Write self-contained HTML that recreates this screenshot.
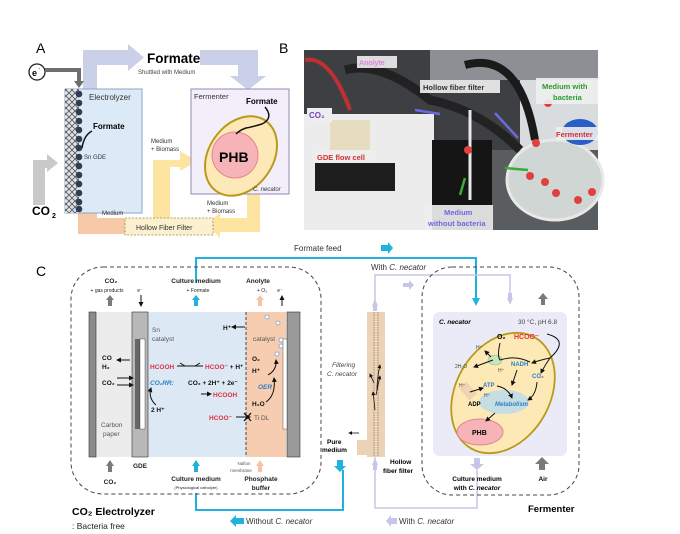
<!DOCTYPE html>
<html><head><meta charset="utf-8"><style>
html,body{margin:0;padding:0;background:#fff;}
svg{display:block;font-family:"Liberation Sans",sans-serif;}
</style></head><body>
<svg width="680" height="534" viewBox="0 0 680 534" xmlns="http://www.w3.org/2000/svg">
<defs>
<marker id="ah" viewBox="0 0 10 10" refX="8" refY="5" markerWidth="5" markerHeight="5" orient="auto"><path d="M0,0 L10,5 L0,10z" fill="#111"/></marker>
<pattern id="hatch" width="6" height="6" patternUnits="userSpaceOnUse"><rect width="6" height="6" fill="#dfe4ea"/><path d="M0,0L6,6M6,0L0,6" stroke="#555" stroke-width="0.8"/></pattern>
</defs>

<!-- ===== Panel A ===== -->
<text x="36" y="53" font-size="14">A</text>
<path d="M83,89 V50 H128 V44 L144,57.5 L128,71 V65 H97 V89z" fill="#c9d0e8"/>
<path d="M200,50 H258 V76 H266 L248,90 L230,76 H238 V65 H200z" fill="#c9d0e8"/>
<text x="147" y="63" font-size="13.5" font-weight="bold">Formate</text>
<text x="138" y="74" font-size="6" fill="#444">Shuttled with Medium</text>
<circle cx="37" cy="72" r="8" fill="#fff" stroke="#222" stroke-width="1.3"/>
<text x="32" y="76" font-size="9" font-weight="bold">e</text><text x="38.5" y="70" font-size="5">-</text>
<path d="M45,70 H79 V82" fill="none" stroke="#6e6e6e" stroke-width="4"/>
<path d="M74,81 L84,81 L79,88z" fill="#6e6e6e"/>
<path d="M33,205 V160 H47 V154 L58,163 L47,172 V168 H45 V205z" fill="#c9c9c9"/>
<text x="32" y="215" font-size="12" font-weight="bold">CO</text><text x="52" y="218" font-size="7" font-weight="bold">2</text>
<!-- orange arrow -->
<path d="M125,218 H97 V200 H104 L88,187 L72,200 H78 V234 H125z" fill="#f7c9a6"/>
<!-- Electrolyzer -->
<rect x="65" y="89" width="77" height="124" fill="#dceaf7" stroke="#8aa7c8" stroke-width="1"/>
<rect x="65" y="89" width="14" height="124" fill="url(#hatch)"/>
<g fill="#2f3e52">
<circle cx="79" cy="94" r="3.3"/><circle cx="79" cy="103" r="3.3"/><circle cx="79" cy="112" r="3.3"/><circle cx="79" cy="121" r="3.3"/><circle cx="79" cy="130" r="3.3"/><circle cx="79" cy="139" r="3.3"/><circle cx="79" cy="148" r="3.3"/><circle cx="79" cy="157" r="3.3"/><circle cx="79" cy="166" r="3.3"/><circle cx="79" cy="175" r="3.3"/><circle cx="79" cy="184" r="3.3"/><circle cx="79" cy="193" r="3.3"/><circle cx="79" cy="202" r="3.3"/><circle cx="79" cy="209" r="3.3"/>
</g>
<text x="89" y="100" font-size="8" fill="#333">Electrolyzer</text>
<text x="93" y="129" font-size="8" font-weight="bold">Formate</text>
<path d="M92,131 Q84,135 82,148" fill="none" stroke="#111" stroke-width="1.5"/>
<text x="84" y="159" font-size="6" fill="#333">Sn GDE</text>
<text x="102" y="215" font-size="6" fill="#333">Medium</text>
<!-- yellow arrows -->
<path d="M153,233 V160 H180 V151 L197,161 L180,171 V167 H170 V233z" fill="#fde4a0"/>
<path d="M247,194 H260 V232 H220 V238 L207,225 L220,212 V218 H247z" fill="#fde4a0"/>
<text x="151" y="143" font-size="6" fill="#333">Medium</text>
<text x="151" y="151" font-size="6" fill="#333">+ Biomass</text>
<text x="207" y="205" font-size="6" fill="#333">Medium</text>
<text x="207" y="213" font-size="6" fill="#333">+ Biomass</text>
<rect x="125" y="218" width="88" height="17" fill="#fbf0cf" stroke="#9a8a50" stroke-width="0.8" stroke-dasharray="2,1.5"/>
<text x="136" y="230" font-size="7" fill="#333">Hollow Fiber Filter</text>
<!-- Fermenter -->
<rect x="191" y="89" width="98" height="105" fill="#f3effa" stroke="#9a86b8" stroke-width="1"/>
<text x="194" y="99" font-size="7.5" fill="#333">Fermenter</text>
<ellipse cx="241" cy="156" rx="32" ry="43" transform="rotate(35 241 156)" fill="#fde9b8" stroke="#b99a1a" stroke-width="2"/>
<circle cx="235" cy="155" r="23" fill="#f6b3b8" stroke="#e0878e" stroke-width="1"/>
<text x="219" y="162" font-size="14" font-weight="bold">PHB</text>
<text x="246" y="104" font-size="8" font-weight="bold">Formate</text>
<path d="M265,107 Q274,118 262,124 Q252,127 246,128 Q240,130 236,134" fill="none" stroke="#111" stroke-width="1.5"/>
<text x="253" y="191" font-size="6" font-style="italic" fill="#333">C. necator</text>

<!-- ===== Panel B photo ===== -->
<text x="279" y="53" font-size="14">B</text>
<rect x="304" y="50" width="294" height="180" fill="#3d3f42"/>
<rect x="430" y="50" width="168" height="30" fill="#8c8f93"/>
<rect x="520" y="80" width="78" height="70" fill="#d9dcde"/>
<rect x="304" y="114" width="130" height="116" fill="#ececec"/>
<rect x="315" y="163" width="80" height="28" fill="#1e1e1e"/>
<rect x="330" y="120" width="40" height="35" fill="#e6dcc0"/>
<rect x="432" y="140" width="60" height="90" fill="#151515"/>
<rect x="492" y="150" width="106" height="80" fill="#5a5d60"/>
<ellipse cx="555" cy="180" rx="48" ry="40" fill="#cfd6d4" stroke="#e8e8e8" stroke-width="3"/>
<path d="M465,65 Q520,50 535,140" fill="none" stroke="#1a1a1a" stroke-width="8"/>
<path d="M345,70 Q380,60 430,100 Q480,110 520,150" fill="none" stroke="#222" stroke-width="9"/>
<path d="M305,60 Q330,55 350,110" fill="none" stroke="#c03030" stroke-width="4"/>
<path d="M470,110 V200" stroke="#e8e8e8" stroke-width="3"/>
<g fill="#e04040"><circle cx="468" cy="150" r="4"/><circle cx="536" cy="143" r="4"/><circle cx="530" cy="176" r="4"/><circle cx="545" cy="182" r="4"/><circle cx="556" cy="193" r="4"/><circle cx="578" cy="200" r="4"/><circle cx="592" cy="192" r="4"/><circle cx="548" cy="103" r="4"/></g>
<ellipse cx="580" cy="132" rx="18" ry="13" fill="#2a5fc8"/>
<rect x="357" y="56" width="40" height="12" fill="#eee" opacity="0.9"/><text x="359" y="65" font-size="7" fill="#e080e0" font-weight="bold">Anolyte</text>
<rect x="420" y="80" width="80" height="13" fill="#eee" opacity="0.92"/><text x="423" y="90" font-size="7.5" font-weight="bold" fill="#333">Hollow fiber filter</text>
<rect x="536" y="78" width="62" height="26" fill="#eee" opacity="0.92"/><text x="542" y="89" font-size="7.5" font-weight="bold" fill="#2a9a2a">Medium with</text><text x="553" y="100" font-size="7.5" font-weight="bold" fill="#2a9a2a">bacteria</text>
<rect x="556" y="127" width="42" height="13" fill="#eee" opacity="0.9"/><text x="556" y="137" font-size="7.5" font-weight="bold" fill="#d03030">Fermenter</text>
<rect x="307" y="108" width="25" height="14" fill="#eee"/><text x="309" y="118" font-size="8" font-weight="bold" fill="#7a40c0">CO₂</text>
<rect x="314" y="150" width="62" height="13" fill="#eee"/><text x="317" y="160" font-size="7.5" font-weight="bold" fill="#d03030">GDE flow cell</text>
<rect x="425" y="205" width="68" height="25" fill="#eee" opacity="0.92"/><text x="444" y="215" font-size="7.5" font-weight="bold" fill="#6a6ae0">Medium</text><text x="428" y="226" font-size="7.5" font-weight="bold" fill="#6a6ae0">without bacteria</text>
<path d="M415,110 L440,114" stroke="#6a6ae0" stroke-width="2.5"/>
<path d="M495,113 L518,138" stroke="#6a6ae0" stroke-width="2.5"/>
<path d="M528,170 L505,168" stroke="#3aaa3a" stroke-width="2.5"/>
<path d="M460,195 L465,178" stroke="#3aaa3a" stroke-width="2.5"/>

<!-- ===== Panel C ===== -->
<text x="36" y="276" font-size="14">C</text>
<text x="294" y="251" font-size="8" fill="#333">Formate feed</text>
<path d="M381,245 H388 V242 L393,248 L388,254 V251 H381z" fill="#1fb3dc"/>
<path d="M196,283 V258 H476 V300" fill="none" stroke="#1fb3dc" stroke-width="2"/>
<path d="M472,298 H480 L476,306z" fill="#1fb3dc"/>
<path d="M196,493 V510 H343 V470" fill="none" stroke="#1fb3dc" stroke-width="2"/>
<path d="M337,460 H343 V466 H346 L340,472 L334,466 H337z" fill="#1fb3dc"/>
<path d="M244,518 H236 V515 L230,521 L236,527 V524 H244z" fill="#1fb3dc"/>
<text x="246" y="524" font-size="8" fill="#333">Without <tspan font-style="italic">C. necator</tspan></text>
<path d="M375,310 V275 H510 V300" fill="none" stroke="#c6c6e8" stroke-width="1.5"/>
<path d="M375,457 V508 H477 V470" fill="none" stroke="#c6c6e8" stroke-width="1.5"/>
<text x="371" y="270" font-size="8" fill="#333">With <tspan font-style="italic">C. necator</tspan></text>
<path d="M403,283 H409 V280 L414,285 L409,290 V287 H403z" fill="#c6c6e8"/>
<path d="M397,518 H391 V515 L386,521 L391,527 V524 H397z" fill="#c6c6e8"/>
<text x="399" y="524" font-size="8" fill="#333">With <tspan font-style="italic">C. necator</tspan></text>
<path d="M372,306 L375,299 L378,306z M373,306 H377 V311 H373z" fill="#c6c6e8"/>
<path d="M372,465 L375,458 L378,465z M373,465 H377 V470 H373z" fill="#c6c6e8"/>

<rect x="71" y="267" width="250" height="227" rx="32" fill="none" stroke="#444" stroke-width="1" stroke-dasharray="4,3"/>
<rect x="96" y="312" width="36" height="145" fill="#ececec"/>
<rect x="148" y="312" width="98" height="145" fill="#dce9f5"/>
<rect x="246" y="312" width="40" height="145" fill="#f6cdb0"/>
<rect x="89" y="312" width="7" height="145" fill="#8a8a8a" stroke="#333" stroke-width="0.6"/>
<rect x="132" y="312" width="16" height="145" fill="#b8b8b8" stroke="#333" stroke-width="0.6"/>
<rect x="135" y="339" width="8" height="90" fill="#666"/>
<rect x="140" y="339" width="5" height="90" fill="#fff" stroke="#333" stroke-width="0.4"/>
<rect x="287" y="312" width="13" height="145" fill="#9a9a9a" stroke="#333" stroke-width="0.6"/>
<rect x="283" y="339" width="4" height="90" fill="#fff" stroke="#333" stroke-width="0.4"/>
<line x1="246" y1="312" x2="246" y2="457" stroke="#444" stroke-width="1" stroke-dasharray="3,2"/>
<g font-size="6.5" font-weight="bold" text-anchor="middle" fill="#222">
<text x="111" y="283">CO₂</text>
<text x="196" y="283">Culture medium</text>
<text x="258" y="283">Anolyte</text>
<text x="198" y="292" font-size="5" font-weight="normal">+ Formate</text>
<text x="262" y="292" font-size="5" font-weight="normal">+ O₂</text>
<text x="107" y="292" font-size="5" font-weight="normal">+ gas products</text>
<text x="140" y="292" font-size="5" font-weight="normal">e⁻</text>
<text x="280" y="292" font-size="5" font-weight="normal">e⁻</text>
</g>
<path d="M108,306 V300 H106 L110,295 L114,300 H112 V306z" fill="#7a7a7a"/>
<path d="M194,306 V300 H192 L196,295 L200,300 H198 V306z" fill="#1fb3dc"/>
<path d="M258,306 V300 H256 L260,295 L264,300 H262 V306z" fill="#f4c4a4"/>
<line x1="141" y1="295" x2="141" y2="306" stroke="#111" marker-end="url(#ah)"/>
<line x1="282" y1="306" x2="282" y2="296" stroke="#111" marker-end="url(#ah)"/>
<g font-size="6.5" fill="#555"><text x="152" y="332">Sn</text><text x="152" y="341">catalyst</text><text x="253" y="341">catalyst</text><text x="101" y="427">Carbon</text><text x="103" y="436">paper</text><text x="254" y="420">Ti DL</text></g>
<g font-size="6.5" font-weight="bold" fill="#111"><text x="102" y="360">CO</text><text x="102" y="369">H₂</text><text x="102" y="385">CO₂</text><text x="151" y="412">2 H⁺</text><text x="223" y="330">H⁺</text><text x="252" y="361">O₂</text><text x="252" y="373">H⁺</text><text x="252" y="406">H₂O</text>
<text x="188" y="385">CO₂ + 2H⁺ + 2e⁻</text></g>
<g font-size="6.5" font-weight="bold" fill="#e03040"><text x="150" y="369">HCOOH</text><text x="205" y="369">HCOO⁻ <tspan fill="#111">+ H⁺</tspan></text><text x="213" y="397">HCOOH</text><text x="209" y="420">HCOO⁻</text></g>
<text x="150" y="385" font-size="6.5" font-weight="bold" font-style="italic" fill="#2f7fc0">CO₂RR:</text>
<text x="258" y="389" font-size="6.5" font-weight="bold" font-style="italic" fill="#2f7fc0">OER</text>
<g stroke="#111" stroke-width="1" fill="none">
<line x1="130" y1="360" x2="117" y2="360" marker-end="url(#ah)"/>
<line x1="117" y1="378" x2="133" y2="378" marker-end="url(#ah)"/>
<line x1="117" y1="385" x2="133" y2="385" marker-end="url(#ah)"/>
<line x1="245" y1="327" x2="232" y2="327" marker-end="url(#ah)"/>
<line x1="177" y1="366" x2="203" y2="366"/>
<path d="M185,366 L180,363 M195,366 L200,363"/>
<line x1="201" y1="394" x2="211" y2="394" marker-end="url(#ah)"/>
<line x1="236" y1="417" x2="250" y2="417" marker-end="url(#ah)"/>
<path d="M244,413 L251,421 M251,413 L244,421" stroke-width="1.3"/>
<path d="M156,405 Q148,398 151,388" marker-end="url(#ah)"/>
<path d="M266,402 Q276,395 274,378" marker-end="url(#ah)"/>
<path d="M268,375 Q277,370 276,360" marker-end="url(#ah)"/>
</g>
<g fill="#fff" stroke="#7aa0d0" stroke-width="0.8"><circle cx="267" cy="317" r="2"/><circle cx="278" cy="323" r="2"/><circle cx="281" cy="340" r="2"/><circle cx="281" cy="346" r="2"/><circle cx="277" cy="354" r="2"/></g>
<path d="M194,472 V466 H192 L196,460 L200,466 H198 V472z" fill="#1fb3dc"/>
<path d="M258,472 V466 H256 L260,460 L264,466 H262 V472z" fill="#f4c4a4"/>
<path d="M108,472 V466 H106 L110,460 L114,466 H112 V472z" fill="#7a7a7a"/>
<g font-size="6.5" font-weight="bold" text-anchor="middle" fill="#222">
<text x="110" y="484">CO₂</text><text x="140" y="468">GDE</text>
<text x="196" y="481">Culture medium</text>
<text x="261" y="481">Phosphate</text><text x="261" y="490">buffer</text>
<text x="196" y="489" font-size="4" font-weight="normal">(Physiological catholyte)</text>
<text x="244" y="465" font-size="4.5" font-weight="normal" fill="#555">Nafion</text>
<text x="241" y="472" font-size="4.5" font-weight="normal" fill="#555">membrane</text>
</g>
<text x="72" y="515" font-size="10.5" font-weight="bold">CO₂ Electrolyzer</text>
<text x="72" y="529" font-size="8.5" fill="#222">: Bacteria free</text>

<rect x="367" y="312" width="18" height="145" fill="#ebd3b8"/>
<rect x="357" y="440" width="10" height="15" fill="#ebd3b8"/>
<line x1="374" y1="312" x2="374" y2="457" stroke="#8a6a4a" stroke-width="0.7" stroke-dasharray="1.5,1"/>
<line x1="378" y1="312" x2="378" y2="457" stroke="#8a6a4a" stroke-width="0.7" stroke-dasharray="1.5,1"/>
<g stroke="#111" stroke-width="0.8" fill="none">
<path d="M375,410 Q374,400 373,392" marker-end="url(#ah)"/><path d="M377,390 Q377,378 380,365" marker-end="url(#ah)"/>
<line x1="374" y1="383" x2="370" y2="374" marker-end="url(#ah)"/><line x1="376" y1="395" x2="380" y2="376" marker-end="url(#ah)"/>
<line x1="359" y1="433" x2="349" y2="433" marker-end="url(#ah)"/>
</g>
<text x="332" y="367" font-size="6.5" font-style="italic" fill="#444">Filtering</text>
<text x="327" y="376" font-size="6.5" font-style="italic" fill="#444">C. necator</text>
<text x="327" y="444" font-size="6.5" font-weight="bold">Pure</text>
<text x="322" y="452" font-size="6.5" font-weight="bold">medium</text>
<text x="390" y="464" font-size="6.5" font-weight="bold">Hollow</text>
<text x="383" y="473" font-size="6.5" font-weight="bold">fiber filter</text>

<rect x="422" y="267" width="157" height="228" rx="30" fill="none" stroke="#444" stroke-width="1" stroke-dasharray="4,3"/>
<path d="M507,298 H513 L510,305z M508,293 H512 V298 H508z" fill="#c6c6e8"/>
<path d="M541,299 V305 H545 V299 H548 L543,293 L538,299z" fill="#7a7a7a"/>
<rect x="433" y="312" width="134" height="144" rx="6" fill="#eaebf7"/>
<text x="439" y="324" font-size="6.5" font-weight="bold" font-style="italic">C. necator</text>
<text x="518" y="324" font-size="6.5" fill="#444">30 °C, pH 6.8</text>
<ellipse cx="503" cy="393" rx="47" ry="64" transform="rotate(30 503 393)" fill="#fde9b6" stroke="#b99a1a" stroke-width="1.8"/>
<ellipse cx="504" cy="402" rx="25" ry="12" fill="#b9daf0" opacity="0.8"/>
<ellipse cx="480" cy="432" rx="23" ry="13" fill="#f6b3b8" stroke="#e0878e"/>
<text x="472" y="435" font-size="7" font-weight="bold">PHB</text>
<ellipse cx="495" cy="360" rx="7" ry="5" fill="#c8e6bc" stroke="#8abc7a" stroke-width="0.6"/>
<rect x="463" y="383" width="10" height="16" fill="#f2d2b0" transform="rotate(-40 468 391)"/>
<g font-size="6" font-weight="bold">
<text x="497" y="339" font-size="7">O₂</text>
<text x="514" y="339" fill="#e03040" font-size="7">HCOO⁻</text>
<text x="511" y="366" fill="#2f7fc0">NADH</text>
<text x="532" y="378" fill="#2f7fc0">CO₂</text>
<text x="483" y="387" fill="#2f7fc0">ATP</text>
<text x="495" y="406" fill="#2f7fc0" font-style="italic">Metabolism</text>
<text x="468" y="406">ADP</text>
</g>
<g font-size="5" fill="#444"><text x="476" y="349">H⁺</text><text x="455" y="368">2H₂O</text><text x="498" y="372">H⁺</text><text x="459" y="387">H⁺</text><text x="484" y="397">H⁺</text></g>
<g stroke="#111" stroke-width="1" fill="none">
<path d="M547,334 Q570,340 550,358 Q540,360 532,363" marker-end="url(#ah)"/>
<path d="M550,358 Q545,365 541,373" marker-end="url(#ah)"/>
<path d="M500,343 Q497,356 500,360 Q515,355 530,362"/>
<path d="M493,360 L474,367" marker-end="url(#ah)"/>
<path d="M491,357 L485,351" marker-end="url(#ah)"/>
<path d="M517,370 L512,385" marker-end="url(#ah)"/>
<path d="M537,382 Q536,395 528,400" marker-end="url(#ah)"/>
<path d="M497,386 Q508,388 512,398" marker-end="url(#ah)"/>
<path d="M470,392 L483,388" marker-end="url(#ah)"/>
<path d="M495,413 L486,421" marker-end="url(#ah)"/>
</g>
<path d="M474,458 H480 V464 H484 L477,470 L470,464 H474z" fill="#c6c6e8"/>
<path d="M539,470 V464 H535 L542,457 L549,464 H545 V470z" fill="#7a7a7a"/>
<g font-size="6.5" font-weight="bold" text-anchor="middle">
<text x="477" y="481">Culture medium</text>
<text x="477" y="490">with <tspan font-style="italic">C. necator</tspan></text>
<text x="543" y="481">Air</text>
</g>
<text x="528" y="512" font-size="9.5" font-weight="bold">Fermenter</text>
</svg>
</body></html>
